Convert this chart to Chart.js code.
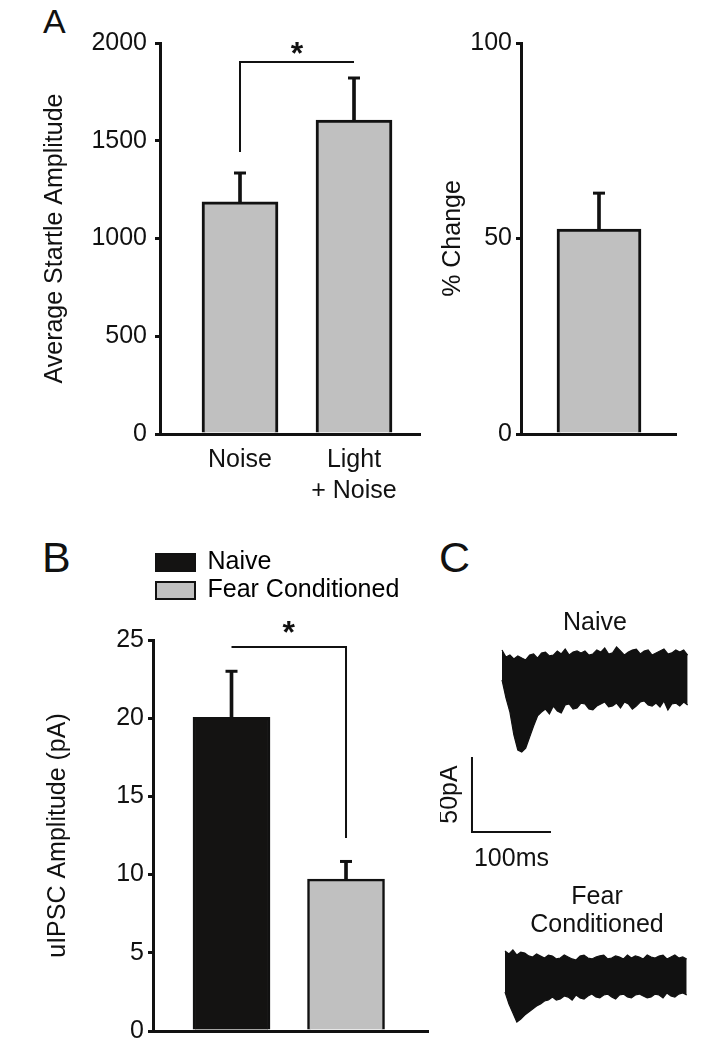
<!DOCTYPE html>
<html>
<head>
<meta charset="utf-8">
<script src="https://cdn.jsdelivr.net/npm/chart.js@4.4.1/dist/chart.umd.min.js"></script>
<style>
  html, body { margin: 0; padding: 0; background: #fff; }
  #fig { position: relative; width: 701px; height: 1050px; overflow: hidden; background: #fff;
         font-family: "Liberation Sans", Arial, Helvetica, sans-serif; color: #111; }
  #fig canvas { position: absolute; }
  .letter { position: absolute; line-height: 1; }
</style>
</head>
<body>
<div id="fig">
  <div class="letter" style="left:43px;top:4px;font-size:34px">A</div>
  <div class="letter" style="left:42px;top:536px;font-size:43px">B</div>
  <div class="letter" style="left:439px;top:536px;font-size:43px">C</div>
  <canvas id="startle" width="430" height="520" style="left:0;top:0"></canvas>
  <canvas id="change" width="260" height="520" style="left:430px;top:0"></canvas>
  <canvas id="uipsc" width="440" height="510" style="left:0;top:540px"></canvas>
  <canvas id="traceNaive" width="261" height="280" style="left:440px;top:600px"></canvas>
  <canvas id="traceFear" width="261" height="180" style="left:440px;top:870px"></canvas>
</div>
<script>
// ---- data ----
// A: startle amplitude
const startleLabels = [['Noise'], ['Light', '+ Noise']];
const startleMean = [1187, 1606];
const startleSem = [148, 215];
const startleTicks = [0, 500, 1000, 1500, 2000];
const startleBracket = [1442, 1903]; // foot under Noise, top of bracket

// A: percent change
const changeMean = [52.4];
const changeSem = [9.2];
const changeTicks = [0, 50, 100];

// B: uIPSC amplitude
const uipscGroups = ['Naive', 'Fear Conditioned'];
const uipscMean = [20.05, 9.71];
const uipscSem = [2.95, 1.13];
const uipscTicks = [0, 5, 10, 15, 20, 25];
const uipscBracket = [24.56, 12.34]; // top of bracket, foot over Fear Conditioned

// C: overlaid sweeps, upper and lower envelope (pA) against time (ms)
const naiveTime = [0, 5, 10, 15, 20, 25, 30, 35, 40, 45, 50, 55, 60, 65, 70, 75, 80, 85, 90, 95,
  100, 105, 110, 115, 120, 125, 130, 135, 140, 145, 150, 155, 160, 165, 170, 175, 180, 185, 190, 195,
  200, 205, 210, 215, 220, 225, 230, 235];
const naiveUpper = [18.7, 14.0, 15.3, 12.7, 14.7, 13.3, 12.0, 15.3, 16.0, 13.3, 16.7, 17.3, 14.7, 15.3, 18.0, 16.0,
  19.3, 15.3, 17.3, 18.0, 16.7, 18.0, 15.3, 16.0, 18.7, 17.3, 20.0, 16.0, 16.7, 20.7, 18.0, 15.3,
  17.3, 18.7, 19.3, 16.0, 18.0, 18.7, 15.3, 16.7, 18.0, 19.3, 16.0, 16.7, 18.7, 17.3, 18.7, 15.3];
const naiveLower = [-1.3, -13.3, -22.7, -38.0, -48.0, -49.3, -46.7, -39.3, -32.0, -25.3, -22.7, -20.7, -24.0, -18.7, -22.0, -23.3,
  -18.0, -17.3, -20.7, -20.0, -16.7, -17.3, -20.7, -21.3, -18.7, -17.3, -16.0, -19.3, -18.7, -16.7, -20.0, -16.0,
  -17.3, -20.7, -18.7, -16.0, -15.3, -18.0, -18.7, -16.7, -19.3, -15.3, -21.3, -17.3, -16.7, -18.7, -16.0, -18.0];

const fearTime = [0, 5, 10, 15, 20, 25, 30, 35, 40, 45, 50, 55, 60, 65, 70, 75, 80, 85, 90, 95,
  100, 105, 110, 115, 120, 125, 130, 135, 140, 145, 150, 155, 160, 165, 170, 175, 180, 185, 190, 195,
  200, 205, 210, 215, 220, 225, 230];
const fearUpper = [16.0, 14.0, 16.7, 13.3, 15.3, 14.7, 12.7, 12.0, 14.0, 12.7, 11.3, 13.3, 12.7, 10.7, 11.3, 13.3,
  12.0, 10.7, 10.0, 12.7, 13.3, 11.3, 10.7, 12.0, 12.7, 13.3, 10.7, 11.3, 12.7, 12.0, 10.7, 13.3,
  11.3, 12.7, 12.0, 10.7, 13.3, 12.0, 11.3, 12.7, 13.3, 10.7, 12.0, 13.3, 11.3, 12.0, 10.7];
const fearLower = [-11.3, -19.3, -25.3, -31.3, -29.3, -26.7, -24.7, -22.7, -20.7, -19.3, -17.3, -16.7, -14.7, -16.7, -16.0, -14.0,
  -14.7, -16.7, -13.3, -15.3, -16.0, -14.0, -12.7, -14.7, -15.3, -13.3, -12.7, -14.7, -16.0, -13.3, -12.7, -14.7,
  -15.3, -13.3, -12.7, -14.0, -15.3, -14.7, -12.7, -13.3, -15.3, -12.0, -14.0, -14.7, -12.7, -12.0, -13.3];

// scale bar: 100 ms by 50 pA, anchored at its corner
const scaleBarMs = 100;
const scaleBarPA = 50;
const scaleBarCorner = { t: -38, pA: -102.7 };

// ---- style ----
const FONT = '"Liberation Sans", Arial, Helvetica, sans-serif';
const INK = '#111111';
const GREY = '#c0c0c0';
const BLACK = '#141312';

Chart.defaults.font.family = FONT;
Chart.defaults.font.size = 25;
Chart.defaults.color = INK;
Chart.defaults.animation = false;
Chart.defaults.plugins.legend.display = false;
Chart.defaults.plugins.tooltip.enabled = false;

const starPlugin = {
  id: 'star',
  afterDatasetsDraw(chart, args, o) {
    if (!o || o.y === undefined) return;
    const { ctx, scales } = chart;
    const px = (scales.x.getPixelForValue(o.x[0]) + scales.x.getPixelForValue(o.x[1])) / 2;
    const py = scales.y.getPixelForValue(o.y) + o.shift;
    ctx.save();
    ctx.font = 'bold 32px ' + FONT;
    ctx.fillStyle = INK;
    ctx.textAlign = 'center';
    ctx.textBaseline = 'alphabetic';
    ctx.fillText('*', px, py);
    ctx.restore();
  }
};

function yScale(ticks, width, pad, title, titlePad) {
  return {
    min: ticks[0], max: ticks[ticks.length - 1],
    afterBuildTicks: s => { s.ticks = ticks.map(v => ({ value: v })); },
    afterFit: s => { s.width = width; },
    grid: { drawOnChartArea: false, drawTicks: true, tickLength: 5, lineWidth: 3, color: INK },
    border: { display: true, width: 3, color: INK },
    ticks: { padding: pad, color: INK, font: { size: 25 }, callback: v => String(v) },
    title: { display: true, text: title, color: INK, font: { size: 25 }, padding: { top: titlePad, bottom: 0 } }
  };
}

function xScale(xs, min, max, height, labels) {
  return {
    type: 'linear', min, max, offset: false,
    afterBuildTicks: s => { s.ticks = xs.map(v => ({ value: v })); },
    afterFit: s => { s.height = height; },
    grid: { display: false, drawTicks: false },
    border: { display: true, width: 3, color: INK },
    ticks: {
      display: !!labels, autoSkip: false, maxRotation: 0, padding: 10.5, color: INK,
      font: { size: 25, lineHeight: 1.24 },
      callback: (v, i) => labels ? labels[i] : ''
    }
  };
}

function barSets(means, sems, fills, border, width) {
  const xs = means.map((_, i) => i + 1);
  return [
    { type: 'bar', xAxisID: 'x', data: xs.map((x, i) => ({ x, y: means[i] })),
      backgroundColor: fills, borderColor: INK, borderWidth: border, borderSkipped: 'start',
      barThickness: width, grouped: false, order: 0 },
    { type: 'bar', xAxisID: 'x', data: xs.map((x, i) => ({ x, y: [means[i], means[i] + sems[i]] })),
      backgroundColor: INK, borderWidth: 0, barThickness: 3, grouped: false, order: 3 },
    { type: 'line', xAxisID: 'x', data: xs.map((x, i) => ({ x, y: means[i] + sems[i] })),
      showLine: false, pointStyle: 'line', pointRadius: 6, pointBorderWidth: 3, pointBorderColor: INK, order: 2 }
  ];
}

function bracketSet(points) {
  return { type: 'line', xAxisID: 'x', data: points, borderColor: INK, borderWidth: 2,
           pointRadius: 0, fill: false, tension: 0, clip: false, order: 1 };
}

// ---- A: startle ----
new Chart(document.getElementById('startle'), {
  type: 'bar',
  data: { datasets: [
    ...barSets(startleMean, startleSem, [GREY, GREY], 3, 76),
    bracketSet([{ x: 1, y: startleBracket[0] }, { x: 1, y: startleBracket[1] }, { x: 2, y: startleBracket[1] }])
  ] },
  options: {
    responsive: false,
    layout: { padding: { top: 43, right: 10, bottom: 0, left: 0 } },
    scales: {
      x: xScale([1, 2], 0.2982, 2.5789, 86, startleLabels),
      y: yScale(startleTicks, 160, 8, 'Average Startle Amplitude', 40)
    },
    plugins: { star: { x: [1, 2], y: startleBracket[1], shift: 2 } }
  },
  plugins: [starPlugin]
});

// ---- A: % change ----
new Chart(document.getElementById('change'), {
  type: 'bar',
  data: { datasets: barSets(changeMean, changeSem, [GREY], 3, 84) },
  options: {
    responsive: false,
    layout: { padding: { top: 43, right: 14, bottom: 0, left: 0 } },
    scales: {
      x: xScale([1], 0.5, 1.4936, 86, null),
      y: yScale(changeTicks, 91, 4, '% Change', 8)
    }
  }
});

// ---- B: uIPSC ----
new Chart(document.getElementById('uipsc'), {
  type: 'bar',
  data: { datasets: [
    ...barSets(uipscMean, uipscSem, [BLACK, GREY], 2.5, 77),
    bracketSet([{ x: 1, y: uipscBracket[0] }, { x: 2, y: uipscBracket[0] }, { x: 2, y: uipscBracket[1] }])
  ] },
  options: {
    responsive: false,
    layout: { padding: { top: 7, right: 12, bottom: 0, left: 0 } },
    scales: {
      x: xScale([1, 2], 0.3144, 2.716, 11, null),
      y: yScale(uipscTicks, 153, 4, 'uIPSC Amplitude (pA)', 43),
      xTop: { type: 'linear', position: 'top', min: 0, max: 1, display: true,
              grid: { display: false, drawTicks: false }, border: { display: false },
              ticks: { display: false }, afterFit: s => { s.height = 27; } }
    },
    plugins: {
      legend: {
        display: true, position: 'top', align: 'start', fullSize: false,
        labels: {
          boxWidth: 39, boxHeight: 17, padding: 3, color: INK, font: { size: 25 },
          generateLabels: () => uipscGroups.map((g, i) => ({
            text: g, fillStyle: [BLACK, GREY][i], strokeStyle: INK, lineWidth: 2,
            hidden: false, datasetIndex: 0, index: i
          }))
        }
      },
      star: { x: [1, 2], y: uipscBracket[0], shift: -4 }
    }
  },
  plugins: [starPlugin]
});

// ---- C: traces ----
const scaleBarLabels = {
  id: 'scaleBarLabels',
  afterDatasetsDraw(chart, args, o) {
    if (!o || !o.ms) return;
    const { ctx, scales: { x, y } } = chart;
    const x0 = x.getPixelForValue(scaleBarCorner.t);
    const x1 = x.getPixelForValue(scaleBarCorner.t + scaleBarMs);
    const y0 = y.getPixelForValue(scaleBarCorner.pA);
    const y1 = y.getPixelForValue(scaleBarCorner.pA + scaleBarPA);
    ctx.save();
    ctx.fillStyle = INK;
    ctx.font = '25px ' + FONT;
    ctx.textAlign = 'center';
    ctx.textBaseline = 'middle';
    ctx.fillText(o.ms, (x0 + x1) / 2, y0 + 27);
    ctx.translate(x0 - 22, (y0 + y1) / 2);
    ctx.rotate(-Math.PI / 2);
    ctx.fillText(o.pA, 0, 0);
    ctx.restore();
  }
};

function traceSets(t, upper, lower) {
  return [
    { data: t.map((x, i) => ({ x, y: upper[i] })), borderColor: INK, borderWidth: 1.2, pointRadius: 0,
      tension: 0, fill: '+1', backgroundColor: INK },
    { data: t.map((x, i) => ({ x, y: lower[i] })), borderColor: INK, borderWidth: 1.2, pointRadius: 0,
      tension: 0, fill: false }
  ];
}

new Chart(document.getElementById('traceNaive'), {
  type: 'line',
  data: { datasets: [
    ...traceSets(naiveTime, naiveUpper, naiveLower),
    // scale bar, traced right -> corner -> up
    { data: [
        { x: scaleBarCorner.t + scaleBarMs, y: scaleBarCorner.pA },
        { x: scaleBarCorner.t, y: scaleBarCorner.pA },
        { x: scaleBarCorner.t, y: scaleBarCorner.pA + scaleBarPA }
      ], borderColor: INK, borderWidth: 2, pointRadius: 0, fill: false, tension: 0, clip: false }
  ] },
  options: {
    responsive: false,
    layout: { padding: { top: 0, right: 0, bottom: 0, left: 49 } },
    scales: {
      x: { type: 'linear', display: false, min: -16.46, max: 251.9 },
      y: { type: 'linear', display: false, min: -134.67, max: 25.33 }
    },
    plugins: {
      title: { display: true, text: 'Naive', color: INK, font: { size: 25, weight: 'normal', lineHeight: 1.2 },
               padding: { top: 8, bottom: 2 } },
      scaleBarLabels: { ms: '100ms', pA: '50pA' }
    }
  },
  plugins: [scaleBarLabels]
});

new Chart(document.getElementById('traceFear'), {
  type: 'line',
  data: { datasets: traceSets(fearTime, fearUpper, fearLower) },
  options: {
    responsive: false,
    layout: { padding: { top: 0, right: 0, bottom: 0, left: 53 } },
    scales: {
      x: { type: 'linear', display: false, min: -15.19, max: 248.1 },
      y: { type: 'linear', display: false, min: -50, max: 23.33 }
    },
    plugins: {
      title: { display: true, text: ['Fear', 'Conditioned'], color: INK,
               font: { size: 25, weight: 'normal', lineHeight: 1.12 }, padding: { top: 13, bottom: 1 } }
    }
  }
});
</script>
</body>
</html>
